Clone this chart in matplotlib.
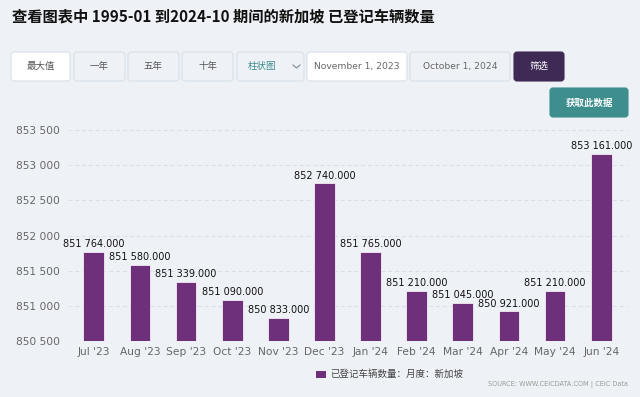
import matplotlib
matplotlib.use("Agg")
import matplotlib.pyplot as plt
from matplotlib.patches import FancyBboxPatch, Rectangle

months = ["Jul '23", "Aug '23", "Sep '23", "Oct '23", "Nov '23", "Dec '23",
          "Jan '24", "Feb '24", "Mar '24", "Apr '24", "May '24", "Jun '24"]
vehicles = [851764, 851580, 851339, 851090, 850833, 852740,
            851765, 851210, 851045, 850921, 851210, 853161]
yticks = [850500, 851000, 851500, 852000, 852500, 853000, 853500]

title = "查看图表中 1995-01 到2024-10 期间的新加坡 已登记车辆数量"
series_name = "已登记车辆数量：月度：新加坡"
source = "SOURCE: WWW.CEICDATA.COM | CEIC Data"

BG = "#eef2f6"
BAR = "#6e2f7b"
CJK = ["Noto Sans CJK SC", "DejaVu Sans"]

W, H = 640, 397
fig = plt.figure(figsize=(W / 100, H / 100), dpi=100, facecolor=BG)

# 背景用の軸（ピクセル座標）
bg = fig.add_axes([0, 0, 1, 1])
bg.set_xlim(0, W)
bg.set_ylim(H, 0)
bg.axis("off")
bg.patch.set_alpha(0)

bg.text(12, 16, title, fontsize=11, fontweight="bold", color="#111111",
        family=CJK, va="center", ha="left")


def button(x0, x1, y0, y1, label, face, edge, tcolor, size=6.8, weight="normal", fam=CJK):
    bg.add_patch(FancyBboxPatch((x0, y0), x1 - x0, y1 - y0,
                                boxstyle="round,pad=0,rounding_size=3",
                                facecolor=face, edgecolor=edge, linewidth=0.8))
    bg.text((x0 + x1) / 2, (y0 + y1) / 2, label, fontsize=size, color=tcolor,
            ha="center", va="center", family=fam, fontweight=weight)


button(11, 70, 52, 81, "最大值", "white", "#d8e0e8", "#555555")
button(74, 125, 52, 81, "一年", BG, "#d8e0e8", "#555555")
button(128, 179, 52, 81, "五年", BG, "#d8e0e8", "#555555")
button(182, 233, 52, 81, "十年", BG, "#d8e0e8", "#555555")
bg.add_patch(FancyBboxPatch((237, 52), 67, 29, boxstyle="round,pad=0,rounding_size=3",
                            facecolor=BG, edgecolor="#d8e0e8", linewidth=0.8))
bg.text(248, 66.5, "柱状图", fontsize=6.8, color="#3d8b8b", ha="left", va="center", family=CJK)
bg.plot([293, 296.5, 300], [65, 68, 65], color="#7a8a99", lw=0.8)
button(307, 407, 52, 81, "November 1, 2023", "white", "#d8e0e8", "#666666", size=6.6, fam=["DejaVu Sans"])
button(410, 510, 52, 81, "October 1, 2024", BG, "#d8e0e8", "#666666", size=6.6, fam=["DejaVu Sans"])
button(514, 564, 52, 81, "筛选", "#3f2a56", "#3f2a56", "white")
button(550, 628, 88, 117, "获取此数据", "#3e8e8e", "#3e8e8e", "white", weight="bold")

# 凡例とソース
bg.add_patch(Rectangle((316, 371), 10, 7, facecolor=BAR, edgecolor="none"))
bg.text(330, 374, series_name, fontsize=6.8, color="#444444", family=CJK,
        ha="left", va="center")
bg.text(628, 384, source, fontsize=4.7, color="#999999", ha="right", va="center")

# 棒グラフ
ax = fig.add_axes([68 / W, 1 - 341 / H, 560 / W, 211 / H])
ax.patch.set_alpha(0)
x = list(range(len(months)))
ax.bar(x, vehicles, width=0.45, color=BAR, edgecolor="white", linewidth=0.5, zorder=3)
ax.set_ylim(yticks[0], yticks[-1])
ax.set_xlim(-0.56, 11.58)
ax.set_yticks(yticks)
ax.set_yticklabels([f"{v:,}".replace(",", " ") for v in yticks])
ax.set_xticks(x)
ax.set_xticklabels(months)
ax.tick_params(axis="both", length=0, labelsize=7.7, colors="#666666")
ax.tick_params(axis="y", pad=5.8)
ax.tick_params(axis="x", pad=4)
ax.grid(axis="y", color="#d9dfe6", linestyle=(0, (4, 3)), linewidth=0.7, zorder=0)
for s in ax.spines.values():
    s.set_visible(False)

for xi, v in zip(x, vehicles):
    lbl = f"{v:,}".replace(",", " ") + ".000"
    ax.annotate(lbl, (xi, v), xytext=(0, 2), textcoords="offset points",
                ha="center", va="bottom", fontsize=7, color="#111111", zorder=4)

fig.savefig("out.png", dpi=100, facecolor=BG)
